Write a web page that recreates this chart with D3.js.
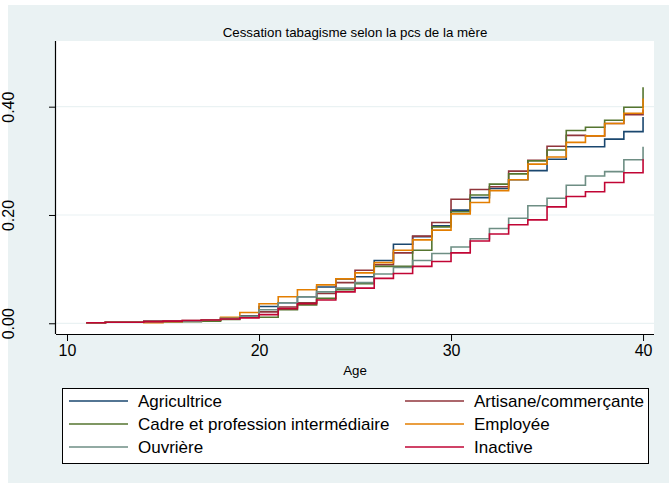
<!DOCTYPE html>
<html>
<head>
<meta charset="utf-8">
<script src="https://cdn.jsdelivr.net/npm/d3@7"></script>
<style>
  html, body { margin: 0; padding: 0; background: #ffffff; }
  svg { display: block; font-family: "Liberation Sans", Arial, sans-serif; }
</style>
</head>
<body>
<svg id="chart" width="669" height="483"></svg>
<script>
// ---- data ----
const title = "Cessation tabagisme selon la pcs de la mère";
const xAxisTitle = "Age";
const ages = [11,12,13,14,15,16,17,18,19,20,21,22,23,24,25,26,27,28,29,30,31,32,33,34,35,36,37,38,39,40];
const xTicks = [10, 20, 30, 40];
const yTicks = [0, 0.2, 0.4];
const yTickLabels = ["0.00", "0.20", "0.40"];

const seriesNames = ["Agricultrice", "Artisane/commerçante", "Cadre et profession intermédiaire", "Employée", "Ouvrière", "Inactive"];
const seriesColors = ["#1a476f", "#90353b", "#55752f", "#e37e00", "#6e8e84", "#c10534"];

const agricultrice = [0.001,0.002,0.002,0.003,0.003,0.004,0.006,0.010,0.014,0.031,0.038,0.049,0.067,0.082,0.086,0.116,0.146,0.160,0.180,0.209,0.232,0.249,0.265,0.282,0.303,0.326,0.326,0.340,0.354,0.381];
const artisane     = [0.001,0.002,0.002,0.004,0.004,0.005,0.006,0.009,0.013,0.021,0.030,0.038,0.055,0.075,0.098,0.108,0.130,0.161,0.186,0.229,0.247,0.252,0.281,0.301,0.327,0.347,0.346,0.369,0.385,0.395];
const cadre        = [0.001,0.002,0.002,0.002,0.002,0.003,0.004,0.007,0.011,0.011,0.025,0.034,0.046,0.062,0.073,0.105,0.105,0.135,0.178,0.206,0.237,0.257,0.276,0.300,0.320,0.356,0.362,0.375,0.399,0.436];
const employee     = [0.001,0.002,0.002,0.001,0.002,0.004,0.006,0.011,0.020,0.036,0.049,0.062,0.071,0.082,0.093,0.112,0.135,0.154,0.172,0.202,0.223,0.245,0.265,0.294,0.307,0.334,0.346,0.369,0.388,0.415];
const ouvriere     = [0.001,0.002,0.002,0.003,0.003,0.004,0.006,0.009,0.013,0.025,0.038,0.049,0.058,0.065,0.075,0.091,0.103,0.116,0.129,0.141,0.156,0.175,0.194,0.217,0.231,0.255,0.272,0.280,0.302,0.326];
const inactive     = [0.001,0.002,0.002,0.003,0.004,0.005,0.006,0.008,0.010,0.016,0.027,0.036,0.043,0.058,0.065,0.083,0.092,0.105,0.114,0.130,0.152,0.165,0.182,0.191,0.215,0.234,0.243,0.260,0.278,0.303];

const seriesValues = [agricultrice, artisane, cadre, employee, ouvriere, inactive];

// ---- layout ----
const W = 669, H = 483;
const plot = { left: 56, right: 654, top: 41, bottom: 334 };
const bg = "#eaf2f3";

const svg = d3.select("#chart");

// graph region
svg.append("rect").attr("x", 8).attr("y", 5).attr("width", W - 8).attr("height", H - 5).attr("fill", bg);
// plot region
svg.append("rect").attr("x", plot.left).attr("y", plot.top)
  .attr("width", plot.right - plot.left).attr("height", plot.bottom - plot.top).attr("fill", "#ffffff");

const x = d3.scaleLinear().domain([9.427, 40.57]).range([plot.left, plot.right]);
const y = d3.scaleLinear().domain([-0.0198, 0.5213]).range([plot.bottom, plot.top]);

// gridlines
svg.append("g").selectAll("line").data(yTicks).join("line")
  .attr("x1", plot.left).attr("x2", plot.right)
  .attr("y1", d => y(d)).attr("y2", d => y(d))
  .attr("stroke", bg).attr("stroke-width", 1.2);

// series
const line = d3.line().x(d => x(d[0])).y(d => y(d[1])).curve(d3.curveStepAfter);
const gS = svg.append("g");
seriesValues.forEach((vals, i) => {
  gS.append("path")
    .datum(ages.map((a, k) => [a, vals[k]]))
    .attr("d", line)
    .attr("fill", "none")
    .attr("stroke", seriesColors[i])
    .attr("stroke-width", 1.6)
    .attr("stroke-linejoin", "miter");
});

// axes
const xAxis = d3.axisBottom(x).tickValues(xTicks).tickSize(7).tickPadding(4).tickFormat(d3.format("d"));
const gx = svg.append("g").attr("transform", `translate(0,${plot.bottom})`).call(xAxis);
gx.select(".domain").attr("stroke", "#000").attr("stroke-width", 1.2).attr("d", `M${plot.left},0.5H${plot.right}`);
gx.selectAll(".tick line").attr("stroke", "#000").attr("stroke-width", 1);
gx.selectAll(".tick text").attr("font-size", 16).attr("fill", "#000")
  .attr("font-family", "Liberation Sans, Arial, sans-serif");

const yAxis = d3.axisLeft(y).tickValues(yTicks).tickSize(7).tickFormat((d, i) => yTickLabels[i]);
const gy = svg.append("g").attr("transform", `translate(${plot.left},0)`).call(yAxis);
gy.select(".domain").attr("stroke", "#000").attr("stroke-width", 1.2).attr("d", `M-0.5,${plot.top}V${plot.bottom}`);
gy.selectAll(".tick line").attr("stroke", "#000").attr("stroke-width", 1);
gy.selectAll(".tick text")
  .attr("font-size", 16).attr("fill", "#000")
  .attr("font-family", "Liberation Sans, Arial, sans-serif")
  .attr("text-anchor", "middle")
  .attr("x", null).attr("dy", null)
  .attr("transform", `translate(${14 - plot.left},0) rotate(-90)`);

// titles
svg.append("text").attr("x", (plot.left + plot.right) / 2).attr("y", 37)
  .attr("text-anchor", "middle").attr("font-size", 13.3).attr("fill", "#000").text(title);
svg.append("text").attr("x", (plot.left + plot.right) / 2).attr("y", 375)
  .attr("text-anchor", "middle").attr("font-size", 13.3).attr("fill", "#000").text(xAxisTitle);

// legend
const leg = svg.append("g");
leg.append("rect").attr("x", 62.5).attr("y", 388.5).attr("width", 586).attr("height", 75)
  .attr("fill", "#fff").attr("stroke", "#000").attr("stroke-width", 1);
const colX = [69, 405];
const rowY = [401, 424, 447];
seriesNames.forEach((name, i) => {
  const cx = colX[i % 2], cy = rowY[Math.floor(i / 2)];
  leg.append("line").attr("x1", cx).attr("x2", cx + 59).attr("y1", cy).attr("y2", cy)
    .attr("stroke", seriesColors[i]).attr("stroke-width", 1.6);
  leg.append("text").attr("x", cx + 69).attr("y", cy + 6)
    .attr("font-size", 17).attr("fill", "#000").text(name);
});
</script>
</body>
</html>
